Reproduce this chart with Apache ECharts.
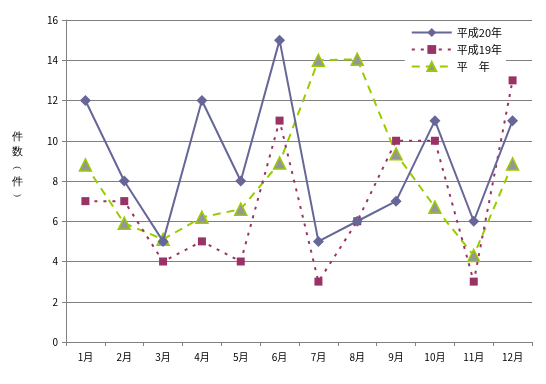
<!DOCTYPE html>
<html><head><meta charset="utf-8">
<script src="https://cdn.jsdelivr.net/npm/echarts@6/dist/echarts.min.js"></script>
<style>html,body{margin:0;padding:0;background:#fff}#c{width:546px;height:384px}</style>
</head><body><div id="c"></div>
<script>
const categories = ['1月','2月','3月','4月','5月','6月','7月','8月','9月','10月','11月','12月'];
const h20 = [12, 8, 5, 12, 8, 15, 5, 6, 7, 11, 6, 11];
const h19 = [7, 7, 4, 5, 4, 11, 3, 6, 10, 10, 3, 13];
const heinen = [8.8, 5.9, 5.1, 6.2, 6.6, 8.9, 14.0, 14.05, 9.35, 6.7, 4.3, 8.85];
const names = ['平成20年', '平成19年', '平　年'];
const yTicks = {min: 0, max: 16, interval: 2};

const font = '"Noto Sans CJK JP", "DejaVu Sans", sans-serif';
const chart = echarts.init(document.getElementById('c'));
chart.setOption({
  backgroundColor: '#ffffff',
  animation: false,
  textStyle: {fontFamily: font},
  grid: {left: 66, right: 14, top: 20, bottom: 42},
  legend: {
    orient: 'vertical', right: 40, top: 24,
    backgroundColor: '#ffffff', padding: [3, 4, 3, 6],
    itemWidth: 40, itemHeight: 11, itemGap: 6,
    textStyle: {fontSize: 11, color: '#000', fontFamily: font},
    data: names
  },
  xAxis: {
    type: 'category', data: categories, boundaryGap: true,
    axisLine: {lineStyle: {color: '#808080', width: 1}},
    axisTick: {show: true, length: 4, lineStyle: {color: '#808080'}, alignWithLabel: false},
    axisLabel: {fontSize: 10, color: '#000', margin: 10, fontFamily: font}
  },
  yAxis: {
    type: 'value', min: yTicks.min, max: yTicks.max, interval: yTicks.interval,
    axisLine: {show: true, lineStyle: {color: '#808080', width: 1}},
    axisTick: {show: true, length: 4, lineStyle: {color: '#808080'}},
    axisLabel: {fontSize: 10, color: '#000', margin: 8, fontFamily: font},
    splitLine: {show: true, lineStyle: {color: '#808080', width: 1}}
  },
  graphic: [{
    type: 'text', left: 12, top: 129,
    style: {text: '件\n数\n︵\n件\n︶', fontSize: 11, lineHeight: 15, fill: '#000', font: '11px ' + font, textAlign: 'center'}
  }],
  series: [
    {
      name: names[2], type: 'line', data: heinen, z: 3,
      symbol: 'triangle', symbolSize: 12,
      itemStyle: {color: '#969696', borderColor: '#99cc00', borderWidth: 1.5},
      lineStyle: {color: '#99cc00', width: 2, type: [8, 6]}
    },
    {
      name: names[1], type: 'line', data: h19, z: 4,
      symbol: 'rect', symbolSize: 8,
      itemStyle: {color: '#993366', borderWidth: 0},
      lineStyle: {color: '#993366', width: 2, type: [3, 6]}
    },
    {
      name: names[0], type: 'line', data: h20, z: 5,
      symbol: 'diamond', symbolSize: 11,
      itemStyle: {color: '#666699', borderWidth: 0},
      lineStyle: {color: '#666699', width: 2}
    }
  ]
});
</script></body></html>
